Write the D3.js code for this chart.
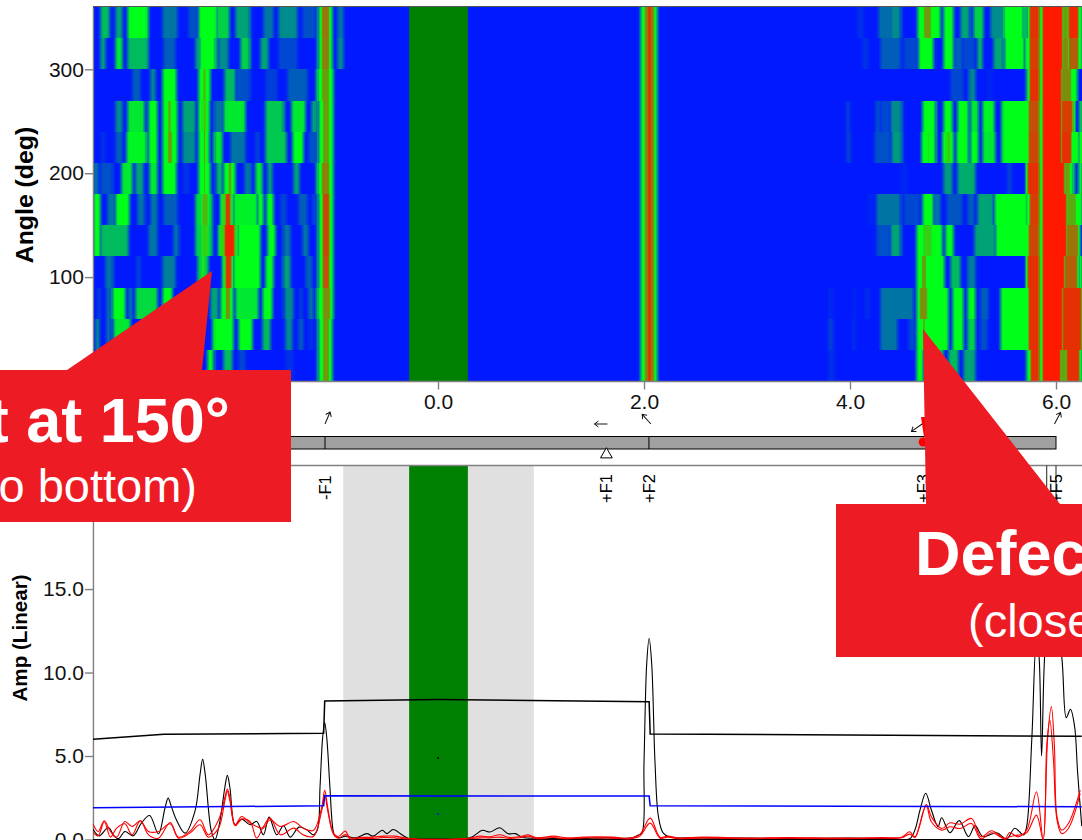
<!DOCTYPE html>
<html>
<head>
<meta charset="utf-8">
<script src="https://cdn.jsdelivr.net/npm/d3@7"></script>
<style>
  body { margin: 0; background: #fff; }
  svg { display: block; }
  text { font-family: "Liberation Sans", Arial, sans-serif; }
</style>
</head>
<body>
<div id="container"></div>
<script>
/* DATA */
// angle at the middle of each heatmap row, top row first
const rowAngles = [345, 315, 285, 255, 225, 195, 165, 135, 105, 75, 45, 15];

// every row: bands of [start freq, end freq, level], level 0 blue, .5 green, 1 red
const rowBands = [
  [[-3.28,-3.19,.35],[-3.14,-3.07,.3],[-3.02,-2.82,.5],[-2.68,-2.53,.2],[-2.43,-2.34,.12],[-2.33,-2.15,.5],[-2.16,-2.03,.4],[-1.97,-1.83,.3],[-1.70,-1.60,.2],[-1.55,-1.37,.25],[-1.32,-1.19,.12],[-1.17,-1.03,.5],[-1.15,-1.05,.8],[-.98,-.92,.2],
   [4.07,4.13,.05],[4.27,4.49,.18],[4.39,4.49,.25],[4.65,4.87,.5],[4.70,4.80,.72],[4.90,5.00,.5],[5.07,5.16,.3],[5.19,5.29,.4],[5.36,5.50,.25],[5.48,5.68,.5],[5.66,5.74,.35],[5.72,6.25,.5],[5.73,5.845,.95],[5.85,6.07,1],[6.05,6.13,.7],[6.11,6.22,.97]],
  [[-3.28,-3.23,.3],[-3.14,-3.07,.45],[-3.02,-2.82,.35],[-2.67,-2.55,.15],[-2.36,-2.14,.3],[-2.32,-2.16,.5],[-2.14,-2.04,.25],[-1.92,-1.83,.4],[-1.73,-1.65,.3],[-1.55,-1.37,.1],[-1.17,-1.03,.5],[-1.15,-1.05,.78],[-.98,-.92,.25],
   [4.12,4.17,.06],[4.29,4.49,.15],[4.51,4.65,.1],[4.66,4.81,.5],[4.90,5.00,.5],[5.01,5.09,.15],[5.09,5.21,.1],[5.23,5.28,.35],[5.39,5.49,.3],[5.49,5.69,.5],[5.69,6.25,.5],[5.73,5.845,.92],[5.85,6.07,1],[6.05,6.13,.75],[6.11,6.22,.85]],
  [[-2.97,-2.89,.15],[-2.80,-2.75,.25],[-2.68,-2.54,.5],[-2.33,-2.21,.5],[-2.30,-2.24,.65],[-2.08,-1.97,.35],[-1.97,-1.83,.12],[-1.68,-1.56,.08],[-1.47,-1.27,.15],[-1.18,-1.02,.5],[-1.15,-1.05,.72],
   [4.97,5.10,.1],[5.15,5.21,.25],[5.33,5.38,.03],[5.71,6.20,.5],[5.73,5.845,.95],[5.85,6.06,1],[6.04,6.16,.75]],
  [[-3.14,-3.07,.25],[-3.02,-2.85,.45],[-2.82,-2.73,.5],[-2.68,-2.53,.5],[-2.64,-2.58,.68],[-2.49,-2.36,.3],[-2.33,-2.22,.55],[-2.29,-2.25,.7],[-2.18,-2.09,.2],[-2.09,-1.87,.45],[-1.68,-1.50,.38],[-1.43,-1.29,.45],[-1.23,-1.17,.3],[-1.17,-1.02,.5],[-1.14,-1.05,.72],
   [3.96,3.99,.1],[4.24,4.29,.12],[4.29,4.39,.1],[4.39,4.50,.25],[4.70,4.83,.5],[4.90,4.99,.5],[5.04,5.15,.5],[5.16,5.24,.45],[5.28,5.40,.48],[5.47,6.17,.5],[5.72,5.845,.88],[5.85,6.06,1],[6.04,6.17,.92],[6.22,6.25,.5]],
  [[-3.28,-3.23,.05],[-3.14,-3.07,.15],[-3.03,-2.83,.48],[-2.82,-2.73,.5],[-2.68,-2.53,.5],[-2.64,-2.57,.72],[-2.49,-2.36,.25],[-2.33,-2.22,.5],[-2.29,-2.25,.75],[-2.18,-2.10,.45],[-2.02,-1.87,.2],[-1.78,-1.74,.1],[-1.68,-1.48,.38],[-1.42,-1.31,.5],[-1.26,-1.15,.12],[-1.17,-1.02,.5],[-1.14,-1.05,.72],
   [3.96,4.0,.1],[4.23,4.39,.12],[4.40,4.50,.28],[4.69,4.83,.5],[4.73,4.79,.55],[4.89,5.00,.55],[4.93,4.97,.7],[5.03,5.15,.5],[5.16,5.24,.5],[5.28,5.41,.45],[5.47,6.22,.5],[5.72,5.845,.9],[5.85,6.06,1],[6.04,6.16,.95],[6.22,6.25,.7]],
  [[-3.35,-3.30,.2],[-3.28,-3.16,.12],[-3.08,-2.97,.45],[-2.94,-2.86,.3],[-2.81,-2.73,.45],[-2.68,-2.54,.5],[-2.49,-2.42,.05],[-2.33,-2.21,.5],[-2.29,-2.25,.7],[-2.16,-2.10,.35],[-2.09,-1.97,.5],[-2.05,-2.0,.75],[-1.88,-1.82,.2],[-1.78,-1.71,.45],[-1.66,-1.61,.3],[-1.41,-1.35,.3],[-1.18,-1.02,.5],[-1.15,-1.05,.78],
   [4.49,4.55,.03],[4.90,4.99,.28],[5.04,5.21,.32],[5.52,5.56,.1],[5.71,6.17,.5],[5.71,5.845,.95],[5.85,6.09,1],[6.07,6.15,.7],[6.21,6.25,.5]],
  [[-3.35,-3.28,.5],[-3.21,-3.14,.2],[-3.14,-3.00,.5],[-2.92,-2.85,.2],[-2.80,-2.73,.2],[-2.67,-2.53,.15],[-2.36,-2.19,.42],[-2.31,-2.22,.65],[-2.12,-1.99,.6],[-2.08,-2.01,.95],[-1.99,-1.76,.47],[-1.76,-1.70,.5],[-1.67,-1.60,.5],[-1.53,-1.48,.1],[-1.36,-1.27,.15],[-1.22,-1.19,.12],[-1.17,-1.02,.5],[-1.14,-1.05,.9],
   [4.17,4.22,.03],[4.25,4.49,.2],[4.51,4.68,.1],[4.70,4.81,.5],[4.81,4.87,.2],[4.93,5.09,.13],[5.14,5.20,.15],[5.23,5.39,.3],[5.40,5.72,.5],[5.70,6.25,.5],[5.73,5.845,.92],[5.85,6.11,1],[6.09,6.20,.68]],
  [[-3.35,-3.28,.5],[-3.28,-3.01,.35],[-2.82,-2.73,.2],[-2.57,-2.52,.2],[-2.36,-2.19,.4],[-2.31,-2.22,.6],[-2.14,-1.94,.6],[-2.09,-1.97,.98],[-1.95,-1.73,.5],[-1.66,-1.58,.5],[-1.51,-1.44,.2],[-1.32,-1.26,.2],[-1.17,-1.02,.5],[-1.14,-1.05,.9],
   [4.25,4.39,.12],[4.39,4.49,.3],[4.64,4.89,.5],[4.69,4.81,.6],[4.92,5.00,.5],[5.20,5.41,.3],[5.41,6.22,.5],[5.72,5.845,.9],[5.85,6.11,1],[6.09,6.22,.8]],
  [[-3.23,-3.16,.2],[-2.93,-2.89,.1],[-2.68,-2.55,.22],[-2.34,-2.23,.4],[-2.31,-2.26,.6],[-2.10,-1.99,.6],[-2.08,-2.00,.95],[-1.99,-1.73,.5],[-1.68,-1.60,.5],[-1.51,-1.44,.3],[-1.29,-1.22,.15],[-1.17,-1.02,.5],[-1.14,-1.05,.88],
   [4.64,4.91,.5],[4.68,4.75,.72],[4.97,5.07,.35],[5.14,5.21,.22],[5.71,6.21,.5],[5.71,5.845,.95],[5.85,6.09,1],[6.07,6.21,.85],[6.21,6.25,.5]],
  [[-3.31,-3.28,.1],[-3.22,-3.18,.2],[-3.17,-3.04,.5],[-3.01,-2.97,.2],[-2.94,-2.73,.42],[-2.68,-2.58,.5],[-2.21,-2.14,.3],[-2.12,-1.99,.5],[-2.08,-2.01,.75],[-1.97,-1.75,.45],[-1.71,-1.61,.5],[-1.50,-1.41,.25],[-1.35,-1.32,.1],[-1.26,-1.21,.2],[-1.18,-1.02,.5],[-1.14,-1.04,.75],
   [3.79,3.83,.04],[4.02,4.05,.03],[4.15,4.18,.05],[4.29,4.61,.2],[4.64,4.95,.5],[4.66,4.76,.75],[4.99,5.10,.5],[5.14,5.21,.5],[5.26,5.34,.15],[5.46,6.25,.5],[5.72,5.845,.95],[5.85,6.07,1],[6.05,6.25,.95]],
  [[-3.33,-3.29,.25],[-3.22,-3.18,.2],[-3.16,-2.99,.45],[-2.19,-1.99,.5],[-1.94,-1.81,.5],[-1.71,-1.63,.35],[-1.49,-1.42,.25],[-1.36,-1.31,.15],[-1.26,-1.21,.05],[-1.17,-1.03,.5],[-1.14,-1.05,.72],
   [3.79,3.83,.1],[4.02,4.05,.05],[4.29,4.46,.2],[4.56,4.63,.1],[4.64,4.95,.5],[4.69,4.74,.7],[4.99,5.10,.5],[5.14,5.21,.4],[5.26,5.33,.12],[5.46,6.25,.5],[5.72,5.845,.95],[5.85,6.07,1],[6.05,6.25,.95]],
  [[-3.28,-3.20,.2],[-3.14,-3.04,.3],[-2.24,-2.18,.5],[-2.09,-2.00,.35],[-1.94,-1.87,.1],[-1.49,-1.41,.05],[-1.17,-1.03,.5],[-1.14,-1.05,.72],
   [3.79,3.84,.05],[4.64,4.71,.5],[4.71,4.90,.4],[4.95,5.05,.35],[5.10,5.21,.3],[5.71,6.25,.5],[5.74,5.845,.95],[5.85,6.05,1],[6.03,6.11,.7],[6.09,6.23,.95]]
];
// the order line near 2 is the same in all rows
const f2Bands = [[1.96,2.13,.5],[1.99,2.11,.78],[2.02,2.08,.97]];

const angleTicks = [100, 200, 300];
const freqTicks = [0, 2, 4, 6];
const ampTicks = [0, 5, 10, 15];
const ampLimit = 22.4;

const faultLabels = ["-F1", "+F1", "+F2", "+F3", "+F5"];
const faultFreqs = [-1.097, 1.635, 2.048, 4.71, 6.0];
const barDividers = [-1.097, 2.048];
const faultLines = [5.91, 6.0];
const arrowFreqs = [-1.097, 1.645, 2.067, 4.70, 5.985];
const arrowHeadings = [67, 180, 132, 215, 62];

const notchBand = [-0.28, 0.29];
const greyBand = [-0.92, 0.93];

const limitUpper = [[-3.35,6.0],[-2.66,6.3],[-1.11,6.37],[-1.10,8.3],[0,8.38],[2.05,8.25],[2.06,6.32],[6.25,6.18]];
const limitLower = [[-3.35,1.9],[-1.11,2.02],[-1.10,2.62],[2.05,2.6],[2.06,2.02],[6.25,1.96]];
const centerDots = [[0,4.88,"black"],[0,1.53,"blue"]];

const spectrumBlack = [
  [-3.35,.62],[-3.29,.22],[-3.20,.72],[-3.145,.2],[-3.10,.05],[-3.04,.48],[-2.96,.22],[-2.88,.98],[-2.80,1.44],[-2.715,.34],[-2.65,1.9],[-2.62,2.48],[-2.59,2.0],[-2.54,1.18],[-2.455,.38],[-2.36,1.68],[-2.31,3.9],[-2.285,4.8],[-2.26,3.9],[-2.20,.48],[-2.165,0],[-2.115,1.18],[-2.07,3.1],[-2.045,3.84],[-2.02,3.1],[-1.97,.88],[-1.905,1.22],[-1.825,.88],[-1.76,1.08],[-1.695,.28],[-1.64,1.34],[-1.565,.28],[-1.50,.82],[-1.435,.14],[-1.35,.74],[-1.275,.58],[-1.21,.28],[-1.17,.6],[-1.145,3.2],[-1.12,6.1],[-1.10,7.0],[-1.08,6.1],[-1.05,3.2],[-1.02,.6],[-1.00,.2],
  [-.95,.1],[-.90,.2],[-.80,.1],[-.69,.35],[-.63,.2],[-.54,.55],[-.495,.35],[-.435,.6],[-.35,.28],[-.29,.08],[0,.03],[.31,.1],[.43,.55],[.505,.45],[.60,.7],[.68,.35],[.75,.35],[.825,.12],[.99,.08],[1.31,.05],[1.64,.1],[1.89,.1],[1.94,.25],[1.98,.4],[2.0,4.6],[2.026,10.5],[2.05,12.05],[2.075,10.5],[2.107,4.6],[2.14,1.37],[2.185,.4],[2.25,.15],
  [2.5,.1],[3.0,.08],[3.5,.06],[4.0,.08],[4.4,.05],[4.58,.05],[4.63,.57],[4.68,1.77],[4.735,2.77],[4.79,1.77],[4.855,.77],[4.89,1.3],[4.97,.4],[5.06,1.13],[5.15,.17],[5.215,.83],[5.29,.17],[5.425,.4],[5.52,.03],[5.60,.67],[5.685,.27],[5.715,.77],[5.765,6],[5.81,12],[5.835,11],[5.86,5.0],[5.89,11],[5.95,15],[6.055,11],[6.10,7.3],[6.14,7.8],[6.18,6.8],[6.21,4],[6.25,.8]
];
const spectrumRedA = [
  [-3.35,.94],[-3.30,.48],[-3.24,1.12],[-3.18,.48],[-3.12,.14],[-3.04,1.08],[-2.97,.78],[-2.89,1.12],[-2.81,.28],[-2.715,.08],[-2.60,1.02],[-2.52,.14],[-2.41,.48],[-2.31,1.18],[-2.23,.28],[-2.13,1.18],[-2.07,2.5],[-2.045,3.02],[-2.02,2.5],[-1.97,.88],[-1.905,1.38],[-1.825,.98],[-1.76,.78],[-1.695,.68],[-1.63,1.18],[-1.53,.78],[-1.40,1.08],[-1.31,.68],[-1.21,.54],[-1.13,1.9],[-1.10,2.94],[-1.07,1.9],[-1.016,.38],[-.97,.18],[-.90,.5],[-.855,.1],[-.76,.12],[-.63,.14],[-.53,.2],[-.42,.2],[-.29,.06],[.27,.05],[.41,.2],[.505,.16],[.60,.28],[.70,.12],[.80,.18],[.875,.28],[.96,.1],[1.12,.2],[1.25,.1],[1.41,.14],[1.54,.16],[1.70,.14],[1.86,.08],[1.96,.3],[2.06,1.28],[2.155,.14],[2.235,.2],[2.32,.1],
  [2.6,.14],[3.0,.08],[3.4,.12],[3.9,.08],[4.3,.12],[4.5,.14],[4.58,.46],[4.63,.16],[4.74,2.1],[4.79,1.36],[4.89,.66],[4.97,1.0],[5.07,.92],[5.18,1.26],[5.27,.16],[5.375,.52],[5.505,.06],[5.55,.42],[5.63,.16],[5.715,.56],[5.81,2.86],[5.875,0],[5.92,6.2],[5.955,7.96],[5.985,5.5],[6.01,1.36],[6.055,.56],[6.12,.96],[6.235,2.96]
];
const spectrumRedB = [
  [-3.35,.42],[-3.30,.22],[-3.24,1.06],[-3.18,.14],[-3.12,.68],[-3.04,.94],[-2.97,.28],[-2.89,1.12],[-2.81,.48],[-2.715,.48],[-2.60,.94],[-2.52,.08],[-2.41,.38],[-2.31,.88],[-2.23,.14],[-2.13,.68],[-2.07,2.3],[-2.045,2.88],[-2.02,2.3],[-1.97,.82],[-1.905,1.22],[-1.825,1.08],[-1.76,.08],[-1.695,.78],[-1.63,1.28],[-1.53,.28],[-1.40,.68],[-1.31,.28],[-1.21,.18],[-1.13,1.7],[-1.10,2.68],[-1.07,1.7],[-1.016,.34],[-.97,.08],[-.90,.3],[-.855,.05],[-.76,.08],[-.63,.06],[-.53,.12],[-.42,.1],[-.29,.03],[.27,.03],[.41,.1],[.505,.1],[.60,.14],[.70,.06],[.80,.12],[.875,.2],[.96,.05],[1.12,.12],[1.25,.05],[1.41,.1],[1.54,.1],[1.70,.08],[1.86,.04],[1.96,.2],[2.06,.98],[2.155,.08],[2.235,.14],[2.32,.05],
  [2.6,.1],[3.0,.05],[3.4,.08],[3.9,.05],[4.3,.08],[4.5,.1],[4.58,.32],[4.63,.12],[4.74,2.02],[4.79,1.06],[4.89,.56],[4.97,.76],[5.07,.66],[5.18,.96],[5.27,.04],[5.375,.4],[5.505,.02],[5.55,.16],[5.63,.26],[5.715,.4],[5.81,1.46],[5.875,0],[5.91,5.6],[5.94,7.16],[5.975,4.8],[6.01,1.16],[6.055,.36],[6.12,.66],[6.235,2.76]
];

/* CONSTANTS AND GLOBALS */
const width = 1082, height = 840;
const freqMin = -3.35, freqMax = 6.25, freqStep = 0.01, edge = 0.045;
const red = "#ed1c24";

const svg = d3.select("#container").append("svg")
  .attr("width", width)
  .attr("height", height);

// SCALES
const x = d3.scaleLinear().domain([0, 6]).range([438, 1056]);
const yAngle = d3.scaleLinear().domain([0, 360]).range([381, 7]);
const yAmp = d3.scaleLinear().domain([0, ampLimit]).range([839.5, 465.5]);
const heatColor = d3.scaleLinear()
  .domain([0, .5, 1])
  .range(["#0019ff", "#00ff19", "#ff1900"]);

// HEATMAP, every row is sampled from its bands
const columns = d3.range(freqMin, freqMax, freqStep);
const level = (f, bands) => d3.max(bands, ([a, b, v]) =>
  v * Math.max(0, Math.min(1, (f - a) / edge + .5, (b - f) / edge + .5))) || 0;

const heatRows = svg.append("g").selectAll("g")
  .data(rowAngles)
  .join("g")
  .attr("shape-rendering", "crispEdges");

heatRows.selectAll("rect")
  .data((d, i) => {
    const bands = rowBands[i].concat(f2Bands);
    return columns.map(f => ({ f, angle: d, v: level(f, bands) }));
  })
  .join("rect")
  .attr("x", d => x(d.f))
  .attr("width", x(freqStep) - x(0) + .5)
  .attr("y", d => yAngle(d.angle + 15))
  .attr("height", d => yAngle(d.angle - 15) - yAngle(d.angle + 15))
  .attr("fill", d => heatColor(d.v));

svg.append("rect")
  .attr("x", x(notchBand[0]))
  .attr("width", x(notchBand[1]) - x(notchBand[0]))
  .attr("y", 7)
  .attr("height", 374)
  .attr("fill", "#008000");

// top border of the map
svg.append("line")
  .attr("x1", x(freqMin)).attr("x2", width)
  .attr("y1", 6.5).attr("y2", 6.5)
  .attr("stroke", "#555");

// AXES
const styleAxis = g => {
  g.selectAll("path, line").attr("stroke", "#808080").attr("stroke-width", 1.4);
  g.selectAll("text").attr("font-size", 21).attr("fill", "#111");
};

svg.append("g")
  .attr("transform", `translate(${x(freqMin)},0)`)
  .call(d3.axisLeft(yAngle).tickValues(angleTicks).tickSize(8).tickSizeOuter(0).tickPadding(1))
  .call(styleAxis);

svg.append("g")
  .attr("transform", "translate(0,381.5)")
  .call(d3.axisBottom(x).tickValues(freqTicks).tickFormat(d3.format(".1f")).tickSize(8).tickSizeOuter(0).tickPadding(5))
  .call(styleAxis)
  .call(g => g.select(".domain").remove());

svg.append("line")
  .attr("x1", x(freqMin)).attr("x2", width)
  .attr("y1", 381.5).attr("y2", 381.5)
  .attr("stroke", "#808080")
  .attr("stroke-width", 1.4);

svg.append("text")
  .attr("transform", "translate(33,195) rotate(-90)")
  .attr("text-anchor", "middle")
  .attr("font-size", 24.8)
  .attr("font-weight", "bold")
  .text("Angle (deg)");

// FAULT BAR
svg.append("rect")
  .attr("x", x(freqMin)).attr("y", 436.5)
  .attr("width", x(6) - x(freqMin)).attr("height", 12.5)
  .attr("fill", "#a0a0a0")
  .attr("stroke", "black");

svg.selectAll("line.divider")
  .data(barDividers)
  .join("line")
  .attr("class", "divider")
  .attr("x1", d => x(d)).attr("x2", d => x(d))
  .attr("y1", 436.5).attr("y2", 449)
  .attr("stroke", "black");

svg.append("path")
  .attr("d", d3.symbol(d3.symbolTriangle, 60))
  .attr("transform", `translate(${x(faultFreqs[1])},454.5)`)
  .attr("fill", "white")
  .attr("stroke", "black");

// small heading arrows above the bar
svg.selectAll("g.arrow")
  .data(arrowFreqs)
  .join("g")
  .attr("class", "arrow")
  .attr("transform", (d, i) => `translate(${x(d)},424) rotate(${-arrowHeadings[i]})`)
  .append("path")
  .attr("d", "M0,0H13M9,-3L13,0L9,3")
  .attr("fill", "none")
  .attr("stroke", "#111");

// defect marker on the bar
svg.append("path")
  .attr("d", "M921,417L928,417L927,437L924,437Z")
  .attr("fill", "#ff0000");
svg.append("circle")
  .attr("cx", x(4.71)).attr("cy", 442)
  .attr("r", 4.5)
  .attr("fill", "#ff0000");

// SPECTRUM PANEL
svg.append("rect")
  .attr("x", x(greyBand[0]))
  .attr("width", x(greyBand[1]) - x(greyBand[0]))
  .attr("y", 465.5).attr("height", 374)
  .attr("fill", "#e0e0e0");
svg.append("rect")
  .attr("x", x(notchBand[0]))
  .attr("width", x(notchBand[1]) - x(notchBand[0]))
  .attr("y", 465.5).attr("height", 374)
  .attr("fill", "#008000");

svg.append("line")
  .attr("x1", x(freqMin)).attr("x2", width)
  .attr("y1", 465.5).attr("y2", 465.5)
  .attr("stroke", "#808080")
  .attr("stroke-width", 1.4);

svg.selectAll("line.fault")
  .data(faultLines)
  .join("line")
  .attr("class", "fault")
  .attr("x1", d => x(d)).attr("x2", d => x(d))
  .attr("y1", 465.5).attr("y2", 506)
  .attr("stroke", "#222");

svg.selectAll("text.fault")
  .data(faultLabels)
  .join("text")
  .attr("class", "fault")
  .attr("transform", (d, i) => `translate(${x(faultFreqs[i]) + 6},${d === "-F1" ? 500 : 503}) rotate(-90)`)
  .attr("font-size", 16.5)
  .text(d => d);

svg.append("g")
  .attr("transform", `translate(${x(freqMin)},0)`)
  .call(d3.axisLeft(yAmp).tickValues(ampTicks).tickFormat(d3.format(".1f")).tickSize(8).tickSizeOuter(0).tickPadding(1))
  .call(styleAxis);

svg.append("line")
  .attr("x1", x(freqMin)).attr("x2", width)
  .attr("y1", 839.5).attr("y2", 839.5)
  .attr("stroke", "black");

svg.append("text")
  .attr("transform", "translate(27,638) rotate(-90)")
  .attr("text-anchor", "middle")
  .attr("font-size", 20.6)
  .attr("font-weight", "bold")
  .text("Amp (Linear)");

svg.append("defs").append("clipPath").attr("id", "plot")
  .append("rect")
  .attr("x", x(freqMin)).attr("y", 465)
  .attr("width", width - x(freqMin)).attr("height", 375);

const plot = svg.append("g").attr("clip-path", "url(#plot)");

const stepLine = d3.line().x(d => x(d[0])).y(d => yAmp(d[1]));
const spectrumLine = d3.line()
  .x(d => x(d[0]))
  .y(d => yAmp(d[1]))
  .curve(d3.curveCatmullRom.alpha(.5));

plot.selectAll("path.spectrum")
  .data([
    { values: spectrumBlack, color: "black" },
    { values: spectrumRedB, color: "red" },
    { values: spectrumRedA, color: "red" }
  ])
  .join("path")
  .attr("class", "spectrum")
  .attr("d", d => spectrumLine(d.values))
  .attr("fill", "none")
  .attr("stroke", d => d.color)
  .attr("stroke-width", 1.1);

plot.selectAll("path.limit")
  .data([
    { values: limitUpper, color: "black" },
    { values: limitLower, color: "#0000ff" }
  ])
  .join("path")
  .attr("class", "limit")
  .attr("d", d => stepLine(d.values))
  .attr("fill", "none")
  .attr("stroke", d => d.color)
  .attr("stroke-width", 1.5);

plot.selectAll("circle.center")
  .data(centerDots)
  .join("circle")
  .attr("class", "center")
  .attr("cx", d => x(d[0]))
  .attr("cy", d => yAmp(d[1]))
  .attr("r", 1)
  .attr("fill", d => d[2]);

// CALLOUTS
svg.append("path")
  .attr("d", "M0,370H67L212,271L202,370H291V522H0Z")
  .attr("fill", red);
svg.append("path")
  .attr("d", "M836,504H926L923,329L1060,504H1082V657H836Z")
  .attr("fill", red);

svg.append("text")
  .attr("x", 230).attr("y", 442)
  .attr("text-anchor", "end")
  .attr("font-size", 63).attr("font-weight", "bold")
  .attr("fill", "white")
  .text("Defect at 150°");
svg.append("text")
  .attr("x", 197).attr("y", 502)
  .attr("text-anchor", "end")
  .attr("font-size", 47)
  .attr("fill", "white")
  .text("(close to bottom)");
svg.append("text")
  .attr("x", 915).attr("y", 575)
  .attr("font-size", 63).attr("font-weight", "bold")
  .attr("fill", "white")
  .text("Defect at 30°");
svg.append("text")
  .attr("x", 968).attr("y", 637)
  .attr("font-size", 47)
  .attr("fill", "white")
  .text("(close to bottom)");
</script>
</body>
</html>
